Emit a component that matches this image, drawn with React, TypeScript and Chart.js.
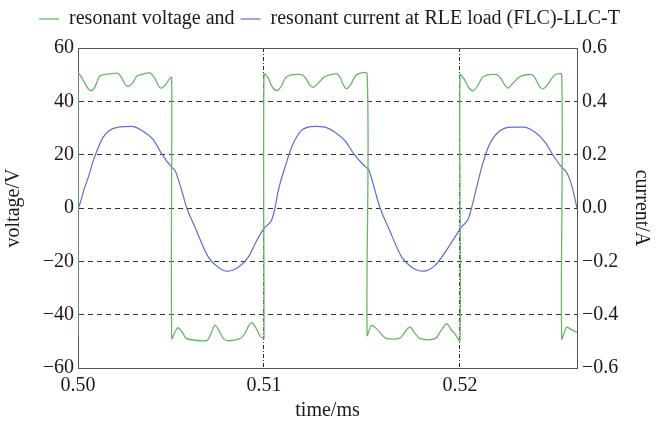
import React, { useEffect, useRef } from "react";
import { Chart, registerables } from "chart.js";

Chart.register(...registerables);

const X_MIN = 0.50051;
const X_MAX = 0.52597;
const xTickValues = [0.50051, 0.51, 0.52];

const voltageTime = [
  0.50051, 0.50051, 0.50077, 0.50102, 0.50121, 0.50138, 0.50163, 0.50204, 0.50255, 0.50276,
  0.50296, 0.50311, 0.50332, 0.50352, 0.50388, 0.50418, 0.50444, 0.50464, 0.5048, 0.505,
  0.5052, 0.50529, 0.50529, 0.50546, 0.50561, 0.50582, 0.50602, 0.50638, 0.50709, 0.5073,
  0.5075, 0.5077, 0.50801, 0.50878, 0.50903, 0.50923, 0.50939, 0.50959, 0.5098, 0.50995,
  0.51, 0.51, 0.5102, 0.51041, 0.51065, 0.51087, 0.51116, 0.51192, 0.51214, 0.51235,
  0.51252, 0.51276, 0.51311, 0.51371, 0.51388, 0.51406, 0.51422, 0.51444, 0.51473, 0.51526,
  0.51526, 0.51549, 0.51583, 0.51607, 0.51626, 0.51694, 0.51719, 0.51745, 0.5177, 0.51796,
  0.51872, 0.51903, 0.51932, 0.51954, 0.51974, 0.52, 0.52, 0.5202, 0.52046, 0.52068,
  0.52092, 0.52119, 0.52187, 0.52209, 0.5223, 0.52246, 0.5227, 0.52306, 0.52366, 0.52385,
  0.52406, 0.52425, 0.52449, 0.52485, 0.52519, 0.52519, 0.52544, 0.52566, 0.52597,
];
const voltageValue = [
  -48, 50.5, 48, 44.8, 44, 45.5, 49.5, 50.2, 50.5, 48.5,
  46, 45.7, 47, 49.5, 50.3, 50.7, 48.5, 45.5, 45, 46.5,
  48.7, 49, -48.9, -46.5, -44.9, -46.5, -48.8, -49.5, -49.6, -47,
  -43.9, -46, -49.5, -49, -47, -44, -43, -45, -48, -49,
  -49, 50.2, 49, 45.5, 44, 45.5, 49.3, 50, 48.5, 46,
  45.3, 46.8, 49.3, 50.3, 49, 46, 44.7, 46.5, 50, 50.3,
  -47.8, -44, -45.9, -48, -49, -48.8, -46.5, -44.7, -47, -49,
  -49, -46, -43.4, -45.5, -47.2, -49.7, 50, 48.5, 45, 44,
  46, 49.3, 50, 48.5, 46, 45, 46.8, 49.3, 50, 48.5,
  45.5, 44.7, 46.5, 50, 50, -49, -44.7, -45.5, -46.6,
];

const currentTime = [
  0.50051, 0.50061, 0.50082, 0.50104, 0.50128, 0.50155, 0.50179, 0.50206, 0.50257, 0.50325,
  0.50376, 0.50435, 0.50478, 0.50529, 0.50546, 0.5058, 0.50606, 0.50648, 0.50716, 0.50767,
  0.5081, 0.50869, 0.5092, 0.50963, 0.51005, 0.51039, 0.51056, 0.51073, 0.51107, 0.51141,
  0.51192, 0.5126, 0.51311, 0.51362, 0.51413, 0.51464, 0.51515, 0.51536, 0.51566, 0.51592,
  0.51634, 0.51703, 0.51754, 0.51813, 0.51872, 0.51907, 0.51958, 0.52009, 0.52042, 0.5206,
  0.52085, 0.52111, 0.52144, 0.52195, 0.52264, 0.52323, 0.52383, 0.52434, 0.52476, 0.52519,
  0.52544, 0.5257, 0.52597,
];
const currentValue = [
  -0.005, 0.016, 0.07, 0.116, 0.175, 0.228, 0.265, 0.288, 0.303, 0.306,
  0.291, 0.256, 0.203, 0.153, 0.141, 0.066, 0.0, -0.072, -0.184, -0.222,
  -0.237, -0.222, -0.184, -0.122, -0.072, -0.045, 0.0, 0.066, 0.153, 0.228,
  0.291, 0.306, 0.303, 0.284, 0.253, 0.197, 0.156, 0.141, 0.066, 0.0,
  -0.072, -0.184, -0.222, -0.237, -0.216, -0.184, -0.128, -0.07, -0.041, 0.003,
  0.078, 0.153, 0.228, 0.284, 0.303, 0.303, 0.284, 0.247, 0.197, 0.153,
  0.134, 0.084, 0.0,
];

const GREEN = "#66b866";
const BLUE = "#5a6ed6";
const FRAME = "#555555";
const TEXT = "#1a1a1a";
const FONT = "'Liberation Serif', 'Times New Roman', serif";
const FS = 20;

const minus = (s: string) => s.replace("-", "\u2212");

export default function App() {
  const ref = useRef<HTMLCanvasElement | null>(null);

  useEffect(() => {
    if (!ref.current) return;
    Chart.defaults.font.family = FONT;
    Chart.defaults.color = TEXT;
    const chart = new Chart(ref.current, {
      type: "line",
      data: {
        datasets: [
          {
            label: "resonant voltage and",
            data: voltageTime.map((t, i) => ({ x: t, y: voltageValue[i] })),
            yAxisID: "y",
            borderColor: GREEN,
            backgroundColor: GREEN,
            borderWidth: 1.3,
            pointRadius: 0,
            pointStyle: "line",
            tension: 0.3,
          },
          {
            label: "resonant current at RLE load (FLC)-LLC-T",
            data: currentTime.map((t, i) => ({ x: t, y: currentValue[i] })),
            yAxisID: "y2",
            borderColor: BLUE,
            backgroundColor: BLUE,
            borderWidth: 1.2,
            pointRadius: 0,
            pointStyle: "line",
            cubicInterpolationMode: "monotone",
          },
        ],
      },
      options: {
        animation: false,
        responsive: true,
        maintainAspectRatio: false,
        layout: { padding: { top: 3, left: 0, right: 0, bottom: 0 } },
        plugins: {
          legend: {
            position: "top",
            labels: {
              usePointStyle: true,
              pointStyle: "line",
              pointStyleWidth: 20,
              padding: 6,
              font: { size: FS, family: FONT },
              color: TEXT,
            },
          },
          tooltip: { enabled: false },
        },
        scales: {
          x: {
            type: "linear",
            position: "bottom",
            min: X_MIN,
            max: X_MAX,
            afterBuildTicks: (s: any) => {
              s.ticks = xTickValues.map((v) => ({ value: v }));
            },
            afterFit: (s: any) => {
              s.height = 59;
            },
            ticks: {
              callback: (v: any) => Number(v).toFixed(2),
              autoSkip: false,
              maxRotation: 0,
              padding: 6,
              font: { size: FS, family: FONT },
              color: TEXT,
            },
            grid: {
              drawTicks: false,
              lineWidth: 1,
              color: (ctx: any) =>
                ctx.tick && ctx.tick.value > X_MIN + 1e-6 ? "#2a2a2a" : "rgba(0,0,0,0)",
            },
            border: { display: true, color: FRAME, width: 1, dash: [4, 2, 1, 2] },
            title: {
              display: true,
              text: "time/ms",
              font: { size: FS, family: FONT },
              color: TEXT,
              padding: { top: 2, bottom: 4 },
            },
          },
          x2: {
            type: "linear",
            position: "top",
            min: X_MIN,
            max: X_MAX,
            afterFit: (s: any) => {
              s.height = 9;
            },
            ticks: { display: false },
            grid: { drawOnChartArea: false, drawTicks: false },
            border: { display: true, color: FRAME, width: 1 },
          },
          y: {
            position: "left",
            min: -60,
            max: 60,
            afterFit: (s: any) => {
              s.width = 78;
            },
            ticks: {
              stepSize: 20,
              callback: (v: any) => minus(String(Math.round(Number(v)))),
              padding: 4,
              font: { size: FS, family: FONT },
              color: TEXT,
            },
            grid: {
              drawTicks: false,
              lineWidth: 1,
              color: (ctx: any) => {
                const v = ctx.tick ? ctx.tick.value : 0;
                return Math.abs(v) === 60 ? FRAME : "#333333";
              },
            },
            border: {
              display: true,
              color: FRAME,
              width: 1,
              dash: (ctx: any) =>
                ctx.tick && Math.abs(ctx.tick.value) !== 60 ? [5, 4] : [],
            },
            title: {
              display: true,
              text: "voltage/V",
              font: { size: FS, family: FONT },
              color: TEXT,
              padding: { top: 2, bottom: 4 },
            },
          },
          y2: {
            position: "right",
            min: -0.6,
            max: 0.6,
            afterFit: (s: any) => {
              s.width = 82;
            },
            ticks: {
              stepSize: 0.2,
              callback: (v: any) => {
                const n = Number(v);
                if (Math.abs(n) < 1e-9) return "0.0";
                return minus(n.toFixed(1));
              },
              padding: 5,
              font: { size: FS, family: FONT },
              color: TEXT,
            },
            grid: { drawOnChartArea: false, drawTicks: false },
            border: { display: true, color: FRAME, width: 1 },
            title: {
              display: true,
              text: "current/A",
              font: { size: FS, family: FONT },
              color: TEXT,
              padding: { top: 6, bottom: 4 },
            },
          },
        },
      } as any,
    });
    return () => chart.destroy();
  }, []);

  return (
    <div style={{ position: "absolute", left: 0, top: 0, width: 659, height: 427 }}>
      <canvas ref={ref} />
    </div>
  );
}
